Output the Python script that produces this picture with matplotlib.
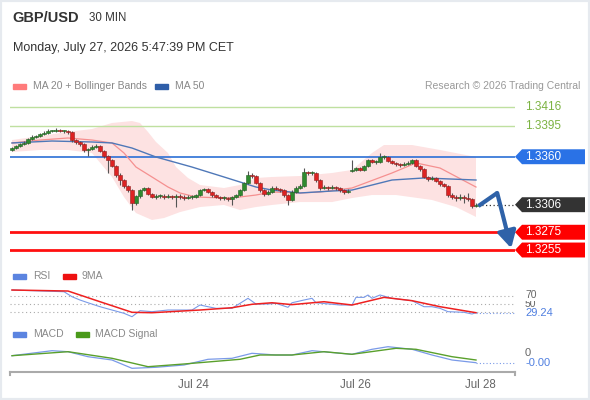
import numpy as np
import matplotlib
matplotlib.use("Agg")
import matplotlib.pyplot as plt
from matplotlib.patches import Polygon, Rectangle
from matplotlib.transforms import blended_transform_factory

plt.rcParams['font.family'] = ['Liberation Sans', 'DejaVu Sans']

# ---- data (30 min candles, index 0..116) ----
first_open = 1.33680
gap_open = 1.33440          # weekend gap candle (index 85)
gap_idx = 85
closes = [
    1.33698, 1.33721, 1.33743, 1.33755, 1.33800, 1.33822, 1.33833, 1.33856, 1.33867, 1.33890,
    1.33890, 1.33901, 1.33890, 1.33890, 1.33879, 1.33788, 1.33766, 1.33743, 1.33676, 1.33687,
    1.33710, 1.33721, 1.33665, 1.33608, 1.33563, 1.33496, 1.33394, 1.33338, 1.33271, 1.33225,
    1.33079, 1.33158, 1.33225, 1.33248, 1.33180, 1.33147, 1.33158, 1.33158, 1.33147, 1.33158,
    1.33147, 1.33158, 1.33147, 1.33135, 1.33147, 1.33147, 1.33169, 1.33225, 1.33237, 1.33203,
    1.33169, 1.33147, 1.33135, 1.33135, 1.33124, 1.33147, 1.33169, 1.33225, 1.33304, 1.33394,
    1.33383, 1.33304, 1.33225, 1.33180, 1.33203, 1.33248, 1.33237, 1.33225, 1.33169, 1.33113,
    1.33203, 1.33248, 1.33271, 1.33428, 1.33417, 1.33417, 1.33338, 1.33248, 1.33259, 1.33248,
    1.33259, 1.33248, 1.33225, 1.33203, 1.33214, 1.33451, 1.33473, 1.33451, 1.33496, 1.33563,
    1.33541, 1.33541, 1.33597, 1.33597, 1.33552, 1.33530, 1.33518, 1.33507, 1.33518, 1.33530,
    1.33563, 1.33496, 1.33462, 1.33372, 1.33349, 1.33360, 1.33327, 1.33293, 1.33271, 1.33169,
    1.33147, 1.33135, 1.33147, 1.33135, 1.33124, 1.33040, 1.33062]
highs = [
    1.33715, 1.33735, 1.33760, 1.33775, 1.33810, 1.33840, 1.33850, 1.33870, 1.33885, 1.33910,
    1.33905, 1.33925, 1.33915, 1.33905, 1.33900, 1.33890, 1.33800, 1.33775, 1.33750, 1.33700,
    1.33730, 1.33740, 1.33730, 1.33675, 1.33620, 1.33570, 1.33505, 1.33420, 1.33350, 1.33285,
    1.33235, 1.33170, 1.33240, 1.33262, 1.33255, 1.33190, 1.33175, 1.33180, 1.33175, 1.33180,
    1.33170, 1.33180, 1.33175, 1.33165, 1.33165, 1.33165, 1.33185, 1.33240, 1.33250, 1.33245,
    1.33215, 1.33180, 1.33160, 1.33155, 1.33150, 1.33160, 1.33185, 1.33240, 1.33320, 1.33440,
    1.33420, 1.33395, 1.33315, 1.33235, 1.33230, 1.33270, 1.33265, 1.33250, 1.33235, 1.33180,
    1.33220, 1.33265, 1.33290, 1.33470, 1.33440, 1.33435, 1.33425, 1.33350, 1.33280, 1.33275,
    1.33280, 1.33270, 1.33260, 1.33240, 1.33235, 1.33560, 1.33490, 1.33485, 1.33510, 1.33580,
    1.33575, 1.33560, 1.33640, 1.33625, 1.33610, 1.33560, 1.33540, 1.33530, 1.33540, 1.33550,
    1.33580, 1.33575, 1.33505, 1.33470, 1.33385, 1.33380, 1.33370, 1.33335, 1.33300, 1.33280,
    1.33190, 1.33170, 1.33175, 1.33165, 1.33190, 1.33135, 1.33080]
lows = [
    1.33665, 1.33690, 1.33710, 1.33730, 1.33745, 1.33790, 1.33810, 1.33825, 1.33845, 1.33860,
    1.33875, 1.33880, 1.33875, 1.33870, 1.33860, 1.33770, 1.33740, 1.33720, 1.33655, 1.33610,
    1.33675, 1.33700, 1.33650, 1.33590, 1.33420, 1.33480, 1.33370, 1.33280, 1.33250, 1.33200,
    1.33000, 1.33060, 1.33140, 1.33210, 1.33165, 1.33130, 1.33120, 1.33130, 1.33125, 1.33130,
    1.33120, 1.33030, 1.33125, 1.33115, 1.33120, 1.33125, 1.33130, 1.33160, 1.33210, 1.33190,
    1.33150, 1.33130, 1.33115, 1.33110, 1.33100, 1.33060, 1.33130, 1.33160, 1.33215, 1.33290,
    1.33360, 1.33290, 1.33200, 1.33160, 1.33170, 1.33190, 1.33220, 1.33205, 1.33150, 1.33060,
    1.33100, 1.33190, 1.33235, 1.33260, 1.33400, 1.33395, 1.33320, 1.33230, 1.33235, 1.33230,
    1.33240, 1.33230, 1.33205, 1.33180, 1.33190, 1.33430, 1.33440, 1.33435, 1.33440, 1.33480,
    1.33525, 1.33520, 1.33530, 1.33575, 1.33540, 1.33515, 1.33500, 1.33490, 1.33495, 1.33505,
    1.33520, 1.33480, 1.33445, 1.33355, 1.33330, 1.33335, 1.33310, 1.33275, 1.33255, 1.33150,
    1.33120, 1.33100, 1.33110, 1.33080, 1.33105, 1.33020, 1.33030]

# moving averages / bollinger band (sampled points)
ma20_idx = [0, 7, 14, 20, 25, 28, 31, 35, 39, 42, 46, 53, 57, 61, 65, 72, 77, 85, 95, 101,
            107, 116]
ma20_val = [1.33755, 1.33788, 1.33811, 1.33788, 1.33755, 1.33642, 1.33484, 1.33372, 1.33259,
            1.33192, 1.33147, 1.33135, 1.33147, 1.33169, 1.33203, 1.33192, 1.33203, 1.33248,
            1.33417, 1.33530, 1.33473, 1.33259]
ma50_idx = [0, 10, 20, 25, 30, 36, 45, 53, 61, 65, 72, 80, 85, 95, 103, 116]
ma50_val = [1.33755, 1.33777, 1.33766, 1.33755, 1.33698, 1.33597, 1.33484, 1.33372, 1.33259,
            1.33225, 1.33192, 1.33214, 1.33225, 1.33338, 1.33361, 1.33338]
bb_up_idx = [0, 7, 14, 20, 25, 30, 32, 34, 36, 39, 41, 44, 47, 53, 57, 61, 65, 72, 80, 85,
             90, 93, 100, 107, 116]
bb_up_val = [1.33788, 1.33833, 1.33879, 1.33912, 1.33980, 1.34002, 1.33980, 1.33879, 1.33766,
             1.33642, 1.33484, 1.33361, 1.33282, 1.33248, 1.33282, 1.33361, 1.33372, 1.33383,
             1.33417, 1.33451, 1.33642, 1.33732, 1.33732, 1.33676, 1.33597]
bb_lo_idx = [0, 7, 14, 20, 25, 28, 31, 35, 38, 42, 47, 53, 57, 61, 65, 72, 80, 85, 90, 96,
             105, 111, 116]
bb_lo_val = [1.33653, 1.33676, 1.33676, 1.33642, 1.33372, 1.33147, 1.32966, 1.32888, 1.32910,
             1.32977, 1.33034, 1.33057, 1.33000, 1.33034, 1.33057, 1.33090, 1.33090, 1.33135,
             1.33169, 1.33169, 1.33113, 1.33034, 1.32922]

# key levels
res_levels = [1.3416, 1.3395]
pivot = 1.3360
last_price = 1.3306
sup_levels = [1.3275, 1.3255]

# RSI and its 9MA
rsi_idx = [0, 13, 15, 17, 19, 22, 25, 28, 30, 32, 35, 39, 45, 47, 49, 51, 55, 59, 61, 64, 66,
           69, 70, 73, 75, 76, 82, 85, 86, 88, 89, 90, 92, 95, 100, 103, 105, 107, 109, 113,
           115, 116]
rsi_val = [83.7, 79.6, 67.6, 59.6, 53.0, 43.5, 35.5, 27.6, 19.4, 33.9, 31.5, 35.5, 35.5, 47.6,
           43.5, 39.6, 39.6, 63.7, 50.0, 50.0, 51.6, 42.0, 53.0, 59.6, 63.7, 53.0, 47.6, 47.6,
           66.0, 66.0, 71.7, 63.7, 71.7, 63.7, 58.0, 43.5, 43.5, 39.6, 31.5, 30.0, 25.9, 29.24]
rsi_ma_idx = [0, 14, 22, 30, 35, 47, 55, 60, 65, 70, 78, 85, 93, 100, 107, 116]
rsi_ma_val = [83.7, 81.3, 55.5, 30.0, 29.0, 35.5, 41.0, 49.3, 53.0, 48.5, 55.5, 47.6, 66.0,
              58.0, 43.5, 29.0]
rsi_levels = [70, 50, 30]

# MACD
macd_idx = [0, 10, 14, 19, 25, 30, 36, 43, 49, 55, 60, 66, 70, 75, 85, 90, 94, 100, 105, 110, 116]
macd_val = [-0.000054, 0.000046, 0.000026, -0.000074, -0.00014, -0.000306, -0.000286, -0.00024,
            -0.000126, -0.000106, -0.000006, -0.00004, -0.00004, 0.000046, -0.000026, 0.000074,
            0.000126, 0.000074, -0.00004, -0.00014, -0.000194]
sig_idx = [0, 14, 25, 34, 43, 57, 62, 70, 78, 85, 96, 101, 110, 116]
sig_val = [-0.000054, 0.000026, -0.000106, -0.000274, -0.00022, -0.000126, -0.00004, -0.00004,
           0.000026, -0.000026, 0.000094, 0.000074, -0.000074, -0.00014]

date_ticks = [45.25, 85.75, 117]
date_labels = ['Jul 24', 'Jul 26', 'Jul 28']

# ---- figure ----
W, H = 590, 400
fig = plt.figure(figsize=(W / 100, H / 100), dpi=100)
fig.patch.set_facecolor('white')


def box(l, t, r, b):
    return [l / W, 1 - b / H, (r - l) / W, (b - t) / H]


def ftext(x, y, s, **kw):
    fig.text(x / W, 1 - y / H, s, va='center', **kw)


def swatch(x, y, color):
    fig.patches.append(Rectangle((x / W, 1 - (y + 2.5) / H), 13 / W, 5 / H,
                                 color=color, transform=fig.transFigure))


XLIM = (-0.5, 125.75)

# main price panel
ax = fig.add_axes(box(10, 95, 515, 262))
ax.set_xlim(*XLIM)
ax.set_ylim(1.32415, 1.34295)
ax.axis('off')

ax.fill(np.r_[bb_up_idx, bb_lo_idx[::-1]], np.r_[bb_up_val, bb_lo_val[::-1]],
        color='#fde2e2', lw=0, zorder=1)
ax.plot(ma20_idx, ma20_val, color='#f59090', lw=0.9, zorder=2)
ax.plot(ma50_idx, ma50_val, color='#4f78b8', lw=1.0, zorder=2)

for lv in res_levels:
    ax.axhline(lv, color='#bfe0a0', lw=1, zorder=1)
ax.axhline(pivot, color='#2b6fd6', lw=1.2, zorder=1)
for lv in sup_levels:
    ax.axhline(lv, color='#ff1010', lw=2, zorder=1)

opens = np.r_[first_open, closes[:-1]]
opens[gap_idx] = gap_open
c = np.array(closes)
x = np.arange(len(c))
up = c >= opens
ax.vlines(x, lows, highs, color='#555555', lw=0.8, zorder=3)
bottom = np.minimum(opens, c)
height = np.maximum(np.abs(c - opens), 0.0001)
ax.bar(x[up], height[up], bottom=bottom[up], width=0.8, color='#2f8a2f',
       edgecolor='#245f24', lw=0.4, zorder=4)
ax.bar(x[~up], height[~up], bottom=bottom[~up], width=0.8, color='#dd2222',
       edgecolor='#8f2020', lw=0.4, zorder=4)

# last price dotted line
ax.plot([x[-1] + 0.5, XLIM[1]], [last_price, last_price], color='#333333', lw=0.9,
        ls=(0, (1, 2)), zorder=2)

# forecast arrow
ax.plot([x[-1] + 0.6, 121.3], [1.33045, 1.33192], color='#2f62a8', lw=3,
        solid_capstyle='butt', zorder=5)
ax.annotate('', xy=(124.8, 1.32570), xytext=(121.3, 1.33192),
            arrowprops=dict(arrowstyle='-|>,head_length=1.0,head_width=0.55',
                            lw=3, color='#2f62a8', shrinkA=0, shrinkB=0), zorder=5)

# right side labels / tags
tr = blended_transform_factory(ax.transAxes, ax.transData)
tx = (525 - 10) / 505
half = 0.00084


def tag(y, color, label):
    ax.add_patch(Polygon([(1.0, y), (1.0139, y + half), (1.1386, y + half),
                          (1.1386, y - half), (1.0139, y - half)], closed=True,
                         facecolor=color, edgecolor='none', transform=tr, clip_on=False))
    ax.text(tx, y, label, transform=tr, color='white', fontsize=8.5, va='center',
            ha='left', clip_on=False)


for lv in res_levels:
    ax.text(tx, lv, f'{lv:.4f}', transform=tr, color='#7cb342', fontsize=8.5,
            va='center', ha='left', clip_on=False)
tag(pivot, '#2a72e6', f'{pivot:.4f}')
tag(last_price, '#333333', f'{last_price:.4f}')
for lv in sup_levels:
    tag(lv, '#ff0000', f'{lv:.4f}')

# RSI panel
ax_r = fig.add_axes(box(10, 285, 515, 325))
ax_r.set_xlim(*XLIM)
ax_r.set_ylim(-0.6, 95.8)
ax_r.axis('off')
for lv in rsi_levels:
    ax_r.axhline(lv, color='#aaaaaa', lw=0.8, ls=(0, (1, 2.5)))
ax_r.plot(rsi_idx, rsi_val, color='#7a9ae8', lw=0.8)
ax_r.plot(rsi_ma_idx, rsi_ma_val, color='#ee2020', lw=1.1)
ax_r.plot([rsi_idx[-1], XLIM[1]], [rsi_val[-1]] * 2, color='#7a9ae8', lw=0.8, ls=(0, (1, 2)))
trr = blended_transform_factory(ax_r.transAxes, ax_r.transData)
ax_r.text(tx, 51, '50', transform=trr, color='#666666', fontsize=7.5, va='center', clip_on=False)
ax_r.text(tx, 71, '70', transform=trr, color='#666666', fontsize=7.5, va='center', clip_on=False,
          bbox=dict(boxstyle='square,pad=0.05', facecolor='white', edgecolor='none'))
ax_r.text(tx, rsi_val[-1], f'{rsi_val[-1]:.2f}', transform=trr, color='#4f7fe0', fontsize=8,
          va='center', clip_on=False,
          bbox=dict(boxstyle='square,pad=0.1', facecolor='white', edgecolor='none'))

# MACD panel
ax_m = fig.add_axes(box(10, 343, 515, 372))
ax_m.set_xlim(*XLIM)
ax_m.set_ylim(-0.00038, 0.0002)
for s in ['top', 'left', 'right']:
    ax_m.spines[s].set_visible(False)
ax_m.spines['bottom'].set_color('#aaaaaa')
ax_m.spines['bottom'].set_linewidth(1.5)
ax_m.set_yticks([])
ax_m.set_xticks(date_ticks)
ax_m.set_xticklabels(date_labels, color='#666666', fontsize=8.3)
ax_m.tick_params(axis='x', length=0, pad=5)
ax_m.plot([0, 0], [0, -0.12], transform=ax_m.transAxes, color='#aaaaaa', lw=1.5, clip_on=False)
ax_m.plot([1, 1], [0, -0.12], transform=ax_m.transAxes, color='#aaaaaa', lw=1.5, clip_on=False)
ax_m.plot(macd_idx, macd_val, color='#7a9ae8', lw=0.9)
ax_m.plot(sig_idx, sig_val, color='#5aa02c', lw=1.0)
ax_m.plot([macd_idx[-1], XLIM[1]], [macd_val[-1]] * 2, color='#7a9ae8', lw=0.8, ls=(0, (1, 2)))
trm = blended_transform_factory(ax_m.transAxes, ax_m.transData)
ax_m.text(tx, 0.00001, '0', transform=trm, color='#666666', fontsize=8, va='center', clip_on=False)
ax_m.text(tx, macd_val[-1], f'{macd_val[-1]:.2f}', transform=trm, color='#4f7fe0', fontsize=8,
          va='center', clip_on=False,
          bbox=dict(boxstyle='square,pad=0.1', facecolor='white', edgecolor='none'))

# header texts and legends
ftext(12, 18, 'GBP/USD', fontsize=10.5, fontweight='bold', color='#333333')
ftext(89, 18, '30 MIN', fontsize=8.3, color='#333333')
ftext(13, 48, 'Monday, July 27, 2026 5:47:39 PM CET', fontsize=9, color='#333333')

swatch(13, 86, '#ff7b7b')
ftext(33, 86, 'MA 20 + Bollinger Bands', fontsize=7.5, color='#888888')
swatch(155, 86, '#2f5ea8')
ftext(175, 86, 'MA 50', fontsize=7.5, color='#888888')
ftext(580, 86, 'Research \u00a9 2026 Trading Central', fontsize=7.5, color='#999999', ha='right')

swatch(13, 276, '#5b84e0')
ftext(33, 276, 'RSI', fontsize=7.5, color='#888888')
swatch(63, 276, '#ee1111')
ftext(82, 276, '9MA', fontsize=7.5, color='#888888')

swatch(13, 334, '#5b84e0')
ftext(33, 334, 'MACD', fontsize=7.5, color='#888888')
swatch(76, 334, '#4a9a1a')
ftext(95, 334, 'MACD Signal', fontsize=7.5, color='#888888')

# light frame around the widget
fig.patches.append(Rectangle((0, 0), 1, 1, transform=fig.transFigure, fill=False,
                             edgecolor='#e6eaef', lw=3))

fig.savefig('out.png', dpi=100)
